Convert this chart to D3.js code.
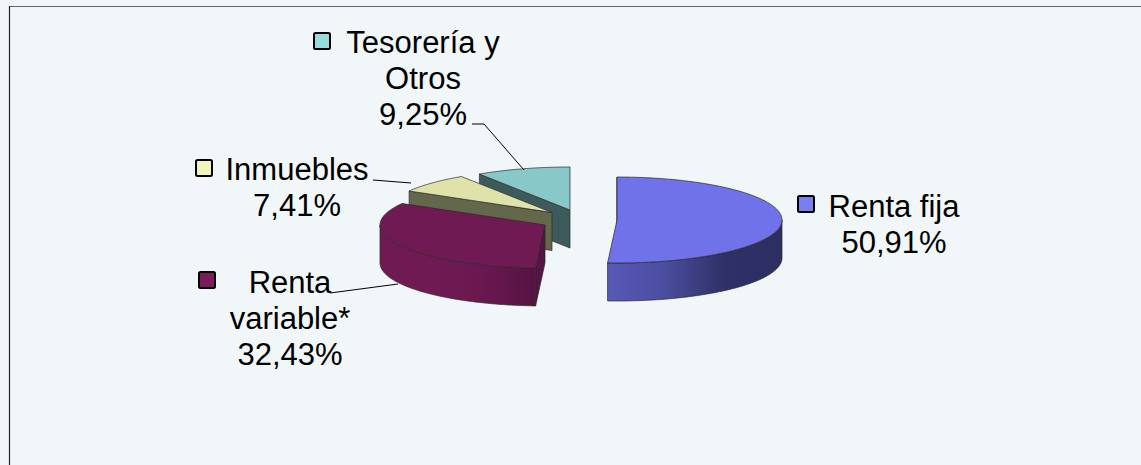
<!DOCTYPE html>
<html>
<head>
<meta charset="utf-8">
<script src="https://cdn.jsdelivr.net/npm/d3@7"></script>
<style>
  html, body { margin: 0; padding: 0; background: #f1f6f9; overflow: hidden; }
  text { font-family: "Liberation Sans", Arial, sans-serif; font-size: 31px; fill: #000; }
</style>
</head>
<body>
<div id="chart"></div>
<script>
const categoryLines = [["Renta fija"], ["Renta", "variable*"], ["Inmuebles"], ["Tesorería y", "Otros"]];
const shares = [50.91, 32.43, 7.41, 9.25];
const shareLabels = ["50,91%", "32,43%", "7,41%", "9,25%"];

const topColors = ["#6f72e8", "#701a54", "#dfe3aa", "#88c8c8"];
const faceColors = ["#4a4c9c", "#561343", "#63674b", "#3d5a5c"];
const wallStops = [
    ["#5759b6", "#4b4d9f", "#2e3066", "#2d2f63"],
    ["#701a54", "#701a54", "#6a1850", "#561343"],
    ["#63674b", "#63674b", "#63674b", "#63674b"],
    ["#3d5a5c", "#3d5a5c", "#3d5a5c", "#3d5a5c"]
];
const swatchColors = ["#7b7ef0", "#7a1c5b", "#f1f5bb", "#97dcdc"];

const width = 1141;
const height = 465;
const rx = 165;
const ry = 43;
const depth = 38;

// exploded position of each wedge's apex
const apex = [[617, 220], [545, 225], [552, 212.5], [570, 210]];
const drawOrder = [3, 2, 1, 0];

const labelPos = [[894, 217], [290, 293], [297, 180], [423, 53]];
const swatchPos = [[798, 196], [199, 272], [196, 160], [314, 33]];
const leaders = [
    null,
    [[330, 293], [398, 284]],
    [[373, 180], [411, 183]],
    [[472, 124], [484, 124], [524, 170]]
];

const svg = d3.select("#chart")
    .append("svg")
    .attr("width", width)
    .attr("height", height)
    .style("display", "block");

svg.append("line").attr("x1", 9).attr("x2", width).attr("y1", 6.5).attr("y2", 6.5)
    .attr("stroke", "#666").attr("stroke-width", 1.2);
svg.append("line").attr("x1", 9.5).attr("x2", 9.5).attr("y1", 6).attr("y2", height)
    .attr("stroke", "#222").attr("stroke-width", 1.2);

const defs = svg.append("defs");
const pie = d3.pie().sort(null).value(d => d);
const slices = pie(shares);
const line = d3.line();

function rim(i, a, down = 0) {
    return [apex[i][0] + rx * Math.sin(a), apex[i][1] - ry * Math.cos(a) + down];
}

function arcPoints(i, a0, a1, down = 0) {
    const n = Math.max(2, Math.ceil((a1 - a0) * 60));
    return d3.range(n + 1).map(k => rim(i, a0 + (a1 - a0) * k / n, down));
}

wallStops.forEach((stops, i) => {
    const g = defs.append("linearGradient").attr("id", "wall" + i);
    stops.forEach((c, k) => {
        g.append("stop").attr("offset", k / (stops.length - 1)).attr("stop-color", c);
    });
});

const edge = "#2a2a2a";

drawOrder.forEach(i => {
    const s = slices[i];
    const g = svg.append("g");
    const corner = apex[i];

    // only the start cut faces the viewer
    const cut = [corner, rim(i, s.startAngle), rim(i, s.startAngle, depth), [corner[0], corner[1] + depth]];
    g.append("path")
        .attr("d", line(cut) + "Z")
        .attr("fill", faceColors[i])
        .attr("stroke", edge)
        .attr("stroke-width", 0.7);

    const w0 = Math.max(s.startAngle, Math.PI / 2);
    const w1 = Math.min(s.endAngle, Math.PI * 1.5);
    if (w1 > w0) {
        const wall = arcPoints(i, w0, w1).concat(arcPoints(i, w0, w1, depth).reverse());
        g.append("path")
            .attr("d", line(wall) + "Z")
            .attr("fill", `url(#wall${i})`)
            .attr("stroke", edge)
            .attr("stroke-width", 0.7);
    }

    const top = [corner].concat(arcPoints(i, s.startAngle, s.endAngle));
    g.append("path")
        .attr("d", line(top) + "Z")
        .attr("fill", topColors[i])
        .attr("stroke", edge)
        .attr("stroke-width", 0.7);
});

leaders.forEach(pts => {
    if (!pts) return;
    svg.append("path")
        .attr("d", line(pts))
        .attr("fill", "none")
        .attr("stroke", "#000")
        .attr("stroke-width", 1);
});

categoryLines.forEach((nameLines, i) => {
    svg.append("rect")
        .attr("x", swatchPos[i][0])
        .attr("y", swatchPos[i][1])
        .attr("width", 16)
        .attr("height", 16)
        .attr("rx", 1.5)
        .attr("fill", swatchColors[i])
        .attr("stroke", "#000")
        .attr("stroke-width", 2);

    nameLines.concat(shareLabels[i]).forEach((t, k) => {
        svg.append("text")
            .attr("x", labelPos[i][0])
            .attr("y", labelPos[i][1] + k * 36)
            .attr("text-anchor", "middle")
            .text(t);
    });
});
</script>
</body>
</html>
